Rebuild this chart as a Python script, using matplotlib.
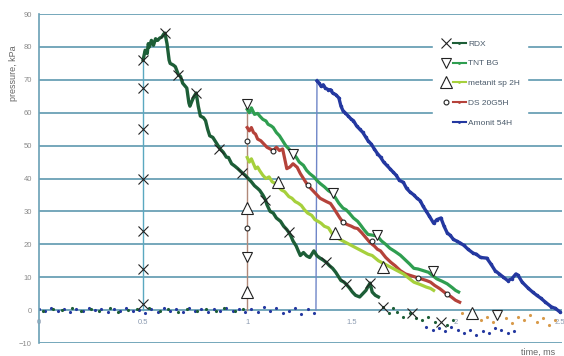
import matplotlib.pyplot as plt
from matplotlib.lines import Line2D
from matplotlib.legend_handler import HandlerTuple

plt.rcParams["font.family"] = ["Liberation Sans", "DejaVu Sans"]

# pressure traces (time in ms, pressure in kPa)
rdx_t = [0.50, 0.51, 0.52, 0.525, 0.53, 0.54, 0.55, 0.56, 0.57, 0.58, 0.59, 0.60,
         0.605, 0.615, 0.625, 0.63, 0.645, 0.655, 0.67, 0.68, 0.69, 0.71, 0.72,
         0.725, 0.735, 0.745, 0.755, 0.765, 0.775, 0.79, 0.80, 0.81, 0.82, 0.835,
         0.845, 0.86, 0.87, 0.885, 0.90, 0.91, 0.925, 0.94, 0.955, 0.975, 0.99,
         1.005, 1.02, 1.035, 1.05, 1.06, 1.075, 1.087, 1.095, 1.11, 1.125, 1.14,
         1.16, 1.175, 1.19, 1.20, 1.21, 1.22, 1.235, 1.245, 1.255, 1.27, 1.285,
         1.30, 1.31, 1.32, 1.335, 1.35, 1.365, 1.38, 1.395, 1.41, 1.425, 1.44,
         1.45, 1.465, 1.475, 1.49, 1.505, 1.52, 1.54, 1.555, 1.57, 1.58, 1.59,
         1.60, 1.615, 1.63]
rdx_p = [76, 79, 78, 81, 80, 82, 80.5, 82.5, 82, 82.7, 83, 84,
         84.2, 81, 76, 75, 74.5, 74, 71.5, 71, 69, 67.5, 63,
         62, 63.6, 65, 66, 62, 59, 58.5, 57.6, 55, 53, 52.5,
         51.5, 50, 49, 48, 46.5, 46.4, 44.5, 43.8, 43, 41.8, 41,
         40, 39, 37.8, 37, 36.4, 35, 33.6, 32, 30, 29.5, 28,
         27, 25.5, 24.5, 23.6, 22.5, 21, 19.5, 18, 16.6, 17.5, 16.5,
         16, 17, 18, 16.5, 15.8, 15.2, 14.5, 13.5, 12.7, 11.5, 10,
         9, 8.5, 7.9, 6.8, 5.5, 4.5, 4, 5, 6, 7.2, 8.2,
         5.5, 4.5, 4]
rdx_mark_t = [0.5, 0.5, 0.5, 0.5, 0.5, 0.5, 0.5, 0.605, 0.67, 0.755, 0.865,
              0.975, 1.087, 1.2, 1.38, 1.475, 1.59, 1.65, 1.79, 1.93]
rdx_mark_p = [1.8, 12.4, 24, 40, 55, 67.6, 76, 84.2, 71.5, 66, 49,
              41.8, 33.6, 23.6, 14.5, 7.9, 8.2, 1, -1, -3.6]

tnt_t = [1.00, 1.01, 1.02, 1.035, 1.05, 1.06, 1.075, 1.09, 1.10, 1.115, 1.125,
         1.14, 1.155, 1.17, 1.185, 1.20, 1.22, 1.235, 1.25, 1.27, 1.285, 1.30,
         1.32, 1.335, 1.35, 1.37, 1.39, 1.41, 1.425, 1.44, 1.46, 1.475, 1.49,
         1.51, 1.53, 1.545, 1.56, 1.58, 1.60, 1.625, 1.645, 1.665, 1.685, 1.71,
         1.735, 1.755, 1.78, 1.80, 1.82, 1.845, 1.87, 1.89, 1.91, 1.935, 1.96,
         1.985, 2.00, 2.015]
tnt_p = [61, 60, 61.5, 59.5, 59.8, 59, 58, 57.5, 56.5, 56, 55.5,
         54, 53, 51.5, 50, 49, 47.6, 46.5, 45, 44, 42.5, 41.5,
         40.5, 39.4, 38.5, 37.5, 36.3, 35.5, 34, 32.5, 31, 30.5, 29.5,
         28, 27, 25.8, 24.5, 23, 22.8, 22.5, 21, 20, 18.8, 17.8,
         16.7, 15.5, 14, 12.7, 12.5, 12, 11.5, 10.5, 9.5, 8.8, 8,
         6.8, 6, 5.5]
tnt_mark_t = [1.0, 1.0, 1.22, 1.41, 1.625, 1.89, 2.2]
tnt_mark_p = [62.7, 16, 47.6, 35.5, 22.7, 11.8, -1.5]

met_t = [1.00, 1.01, 1.02, 1.03, 1.04, 1.05, 1.06, 1.075, 1.09, 1.105, 1.12,
         1.135, 1.15, 1.165, 1.18, 1.20, 1.215, 1.23, 1.245, 1.26, 1.275, 1.29,
         1.31, 1.325, 1.34, 1.355, 1.37, 1.39, 1.41, 1.43, 1.46, 1.49, 1.52,
         1.55, 1.58, 1.60, 1.63, 1.66, 1.69, 1.72, 1.75, 1.78, 1.80, 1.83,
         1.86, 1.88, 1.895]
met_p = [46.4, 45, 46, 44.5, 43, 43.5, 42.4, 41, 40, 40.5, 39,
         38.5, 37.5, 36.5, 36, 34.5, 34, 33, 32.5, 31.8, 30.5, 29.5,
         28.8, 27.5, 27, 26.4, 25.5, 25, 23, 22, 21, 20, 19,
         18, 17, 16.6, 15, 14, 13, 12, 11, 9.5, 8.5, 7.8,
         7, 6.6, 6]
met_mark_t = [1.0, 1.0, 1.15, 1.42, 1.65, 2.08]
met_mark_p = [31, 5.5, 38.8, 23.3, 13, -1]

ds_t = [1.00, 1.01, 1.02, 1.03, 1.04, 1.05, 1.065, 1.08, 1.095, 1.11, 1.125,
        1.14, 1.155, 1.17, 1.18, 1.19, 1.205, 1.22, 1.24, 1.255, 1.27, 1.29,
        1.305, 1.32, 1.335, 1.35, 1.365, 1.38, 1.40, 1.415, 1.43, 1.445, 1.46,
        1.48, 1.50, 1.515, 1.53, 1.55, 1.57, 1.59, 1.61, 1.625, 1.64, 1.665,
        1.69, 1.71, 1.735, 1.76, 1.785, 1.81, 1.835, 1.86, 1.88, 1.90, 1.925,
        1.945, 1.96, 1.98, 2.00, 2.02]
ds_p = [55.5, 54.5, 55.5, 54, 53.5, 52, 51.5, 50.5, 49.5, 49, 48.5,
        49.5, 48.5, 49, 46, 43, 43.5, 44.5, 43.4, 41.5, 40, 38,
        37, 36, 35, 34, 33.5, 33, 32.4, 31, 29.5, 28, 26.7,
        26, 25.5, 25, 24.8, 23.5, 22, 20.5, 19.5, 18.5, 18, 16,
        14.5, 13.5, 12, 11, 10.5, 10, 9.5, 9, 8.5, 7.5, 6.5,
        5.5, 4.8, 4, 3, 2.4]
ds_mark_t = [1.0, 1.0, 1.125, 1.29, 1.46, 1.6, 1.82, 1.96]
ds_mark_p = [51.5, 25, 48.5, 38, 26.7, 21, 9.7, 4.8]

amo_t = [1.335, 1.345, 1.355, 1.365, 1.375, 1.39, 1.40, 1.41, 1.425, 1.44, 1.45,
         1.46, 1.47, 1.485, 1.50, 1.51, 1.525, 1.54, 1.555, 1.57, 1.58, 1.595,
         1.61, 1.625, 1.64, 1.655, 1.67, 1.685, 1.70, 1.715, 1.73, 1.75, 1.765,
         1.78, 1.80, 1.815, 1.83, 1.845, 1.86, 1.875, 1.895, 1.91, 1.93, 1.945,
         1.96, 1.975, 1.99, 2.005, 2.02, 2.04, 2.06, 2.085, 2.10, 2.12, 2.15,
         2.17, 2.19, 2.21, 2.23, 2.25, 2.27, 2.29, 2.30, 2.32, 2.35, 2.37,
         2.39, 2.41, 2.43, 2.46, 2.48, 2.50]
amo_p = [69.7, 69, 68, 68.5, 67.5, 67, 67, 66, 65.5, 64.5, 62,
         60.6, 60, 59, 58, 57.6, 56, 55, 54, 52.5, 51.5, 50.5,
         49, 47.6, 46.5, 45, 44, 43, 42, 41, 39.5, 38.8, 37,
         36, 35, 34, 33.3, 31.5, 30, 28.5, 26.4, 27.5, 28, 25.5,
         23.5, 22.7, 21.5, 21, 20.5, 19.7, 18.5, 17.3, 17, 16, 15.8,
         14, 12, 11, 10, 9, 9.5, 11, 10.6, 8.5, 6.6, 5.5,
         4.5, 3.6, 2.5, 1, 0.5, -0.5]

# scattered samples before the shock front and after the traces end
base_t = [0.0, 0.03, 0.06, 0.09, 0.12, 0.15, 0.18, 0.21, 0.24, 0.27, 0.30,
          0.33, 0.36, 0.39, 0.42, 0.45, 0.48, 0.51, 0.54, 0.57, 0.60, 0.63,
          0.66, 0.69, 0.72, 0.75, 0.78, 0.81, 0.84, 0.87, 0.90, 0.93, 0.96,
          0.99, 1.02, 1.05, 1.08, 1.11, 1.14, 1.17, 1.20, 1.23, 1.26, 1.29,
          1.32]
base_p = [0.2, -0.4, 0.5, -0.2, 0.4, -0.5, 0.3, -0.3, 0.6, -0.1, 0.2,
          -0.6, 0.4, -0.2, 0.5, -0.4, 0.1, -0.8, 0.3, -0.5, 0.6, -0.3,
          0.2, -0.6, 0.5, -0.2, 0.4, -0.7, 0.3, -0.4, 0.5, -0.3, 0.2,
          -0.5, 0.4, -0.6, 0.8, -0.4, 0.6, -1.0, -0.3, 0.5, -1.2, 0.3,
          -0.8]
base2_t = [0.02, 0.07, 0.11, 0.16, 0.2, 0.25, 0.29, 0.34, 0.38, 0.43, 0.47,
           0.53, 0.58, 0.62, 0.67, 0.71, 0.76, 0.8, 0.85, 0.89, 0.94, 0.98]
base2_p = [-0.3, 0.4, -0.1, 0.5, -0.4, 0.2, -0.2, 0.6, -0.5, 0.1, 0.3,
           0.5, -0.3, 0.2, -0.6, 0.4, -0.2, 0.3, -0.4, 0.6, -0.3, 0.2]
tail_t = [1.65, 1.68, 1.70, 1.72, 1.75, 1.78, 1.81, 1.84, 1.87, 1.90, 1.96, 1.99]
tail_p = [1, -1, 0.5, -0.5, -2, -1, -2.5, -3, -2, -3.5, -4.5, -3]
btail_t = [1.86, 1.89, 1.92, 1.95, 1.98, 2.01, 2.04, 2.07, 2.10, 2.13, 2.16,
           2.19, 2.22, 2.25, 2.28]
btail_p = [-5, -6, -5.5, -6.5, -5, -6, -7, -6, -7.5, -6.5, -7, -5.5, -6, -7, -6.5]
ctail_t = [2.03, 2.06, 2.09, 2.12, 2.15, 2.18, 2.21, 2.24, 2.27, 2.30, 2.33,
           2.36, 2.39, 2.42, 2.45, 2.48]
ctail_p = [-1, -2.5, -1.5, -3, -2, -3.5, -1.5, -2.5, -4, -2, -3, -1.5, -3.5, -2.5, -4.5, -3]

c_rdx = "#1d5e37"
c_tnt = "#2f9e50"
c_met = "#a6d03c"
c_ds = "#b5423a"
c_amo = "#2438a0"
c_grid = "#6aa0b5"

fig = plt.figure(figsize=(5.64, 3.56), dpi=100)
ax = fig.add_axes([0.069, 0.0365, 0.927, 0.924])
ax.set_xlim(0, 2.51)
ax.set_ylim(-10, 90)

for s in ["top", "right", "bottom"]:
    ax.spines[s].set_visible(False)
ax.spines["left"].set_color(c_grid)
ax.spines["left"].set_linewidth(1.2)

ax.set_yticks(range(-10, 100, 10))
ax.set_xticks([])
ax.yaxis.grid(True, color=c_grid, lw=1.3, zorder=0)
ax.set_axisbelow(True)
ax.tick_params(axis="y", length=0, pad=5, labelsize=5.5, labelcolor="#8a8a8a")

for xt, lab in zip([0, 0.5, 1, 1.5, 2, 2.5], ["0", "0.5", "1", "1.5", "2", "2.5"]):
    ax.text(xt, -2.8, lab, ha="center", va="top", fontsize=5.5, color="#8a9ab0")

# baseline noise
ax.plot(base_t, base_p, ".", color=c_amo, ms=2.5, zorder=2)
ax.plot(base2_t, base2_p, ".", color=c_rdx, ms=2.5, zorder=2)
ax.plot(tail_t, tail_p, ".", color=c_rdx, ms=2.5, zorder=2)
ax.plot(btail_t, btail_p, ".", color=c_amo, ms=2.5, zorder=2)
ax.plot(ctail_t, ctail_p, ".", color="#d89a4a", ms=2.5, zorder=2)

# shock fronts
ax.plot([0.5, 0.5], [0, rdx_p[0]], color="#5aa8c0", lw=1.0, zorder=2)
ax.plot([1.0, 1.0], [0, tnt_p[0]], color="#b08878", lw=1.0, zorder=2)
ax.plot([1.33, amo_t[0]], [0, amo_p[0]], color="#6f86c8", lw=1.0, zorder=2)

ax.plot(rdx_t, rdx_p, color=c_rdx, lw=2.4, zorder=3)
ax.plot(tnt_t, tnt_p, color=c_tnt, lw=2.3, zorder=3)
ax.plot(ds_t, ds_p, color=c_ds, lw=2.3, zorder=3)
ax.plot(met_t, met_p, color=c_met, lw=2.3, zorder=3)
ax.plot(amo_t, amo_p, color=c_amo, lw=2.4, marker=".", ms=3, zorder=3)

ax.plot(rdx_mark_t, rdx_mark_p, "x", color="#222222", ms=6.5, mew=0.8, zorder=4)
ax.plot(tnt_mark_t, tnt_mark_p, "v", mfc="white", mec="#222222", ms=6.5, mew=0.8, zorder=4)
ax.plot(met_mark_t, met_mark_p, "^", mfc="white", mec="#222222", ms=8.5, mew=0.8, zorder=4)
ax.plot(ds_mark_t, ds_mark_p, "o", mfc="white", mec="#222222", ms=3.5, mew=0.8, zorder=4)

ax.set_ylabel("pressure, kPa", fontsize=6.5, color="#666666")
ax.yaxis.set_label_coords(-0.04, 0.82)
ax.text(0.955, -0.015, "time, ms", transform=ax.transAxes, ha="center",
        va="top", fontsize=6.5, color="#666666")


def handle(marker, color, ms):
    m = Line2D([], [], ls="none", marker=marker, mfc="white", mec="#222222", ms=ms, mew=0.8)
    ln = Line2D([], [], color=color, lw=1.5, marker=".", ms=2)
    return (m, ln)


handles = [handle("x", c_rdx, 7), handle("v", c_tnt, 6.5), handle("^", c_met, 8.5),
           handle("o", c_ds, 3.5), (Line2D([], [], ls="none"),
                                    Line2D([], [], color=c_amo, lw=1.5, marker=".", ms=2))]
labels = ["RDX", "TNT BG", "metanit sp 2H", "DS 20G5H", "Amonit 54H"]
leg = ax.legend(handles, labels, handler_map={tuple: HandlerTuple(ndivide=None, pad=0)},
                loc="upper left", bbox_to_anchor=(0.745, 0.955), fontsize=6,
                handlelength=3.2, labelspacing=1.45, handletextpad=0.3,
                frameon=True, fancybox=False, framealpha=1, borderpad=0.8)
leg.get_frame().set_edgecolor("white")
for t in leg.get_texts():
    t.set_color("#4a5a6a")

fig.savefig("out.png", dpi=100)
